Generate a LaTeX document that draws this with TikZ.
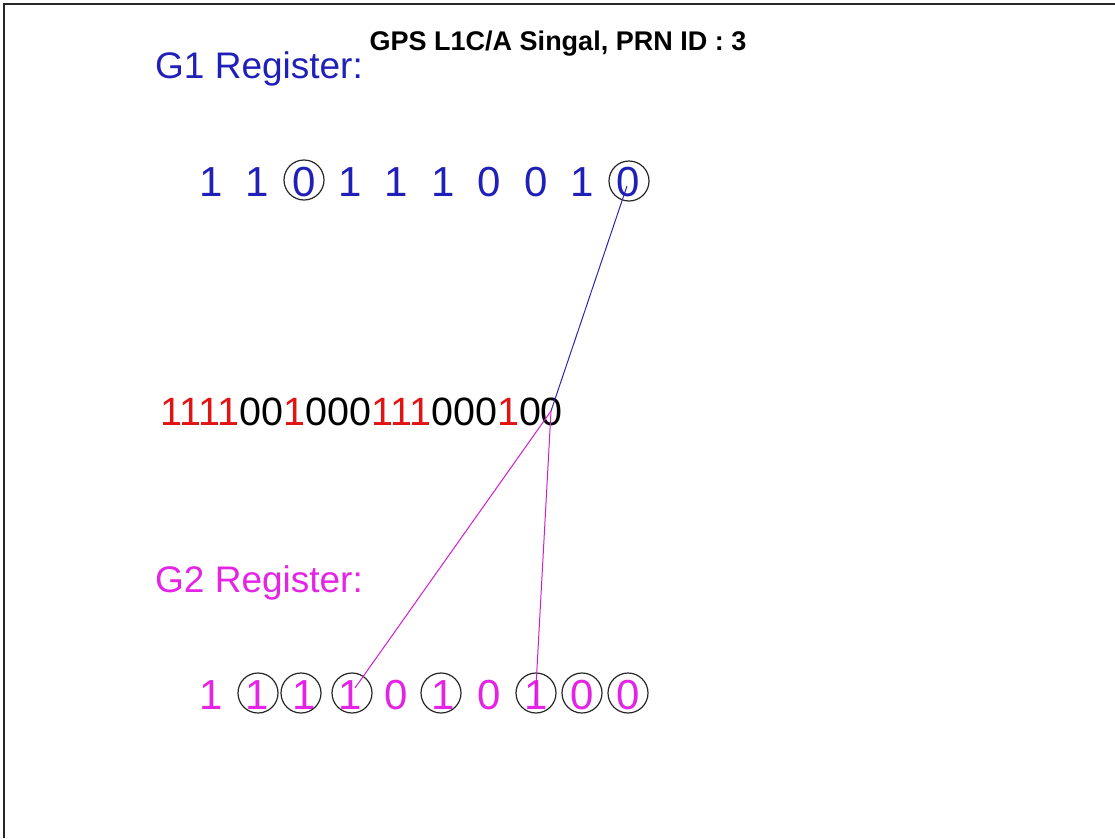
\documentclass[tikz,border=0pt]{standalone}
\usepackage{fontspec}
\setmainfont{Liberation Sans}
\definecolor{gone}{RGB}{32,32,185}
\definecolor{gtwo}{RGB}{228,36,228}
\definecolor{bitred}{RGB}{225,20,20}
\definecolor{gline}{RGB}{40,40,170}
\definecolor{mline}{RGB}{205,30,205}
\begin{document}
\begin{tikzpicture}[x=1pt,y=-1pt,
  lbl/.style={inner sep=0pt,anchor=base west,font=\fontsize{37}{42}\selectfont},
  bit/.style={inner sep=0pt,anchor=base,font=\fontsize{42}{46}\selectfont},
  ring/.style={circle,draw=black!85,line width=1.2pt,minimum size=40pt,inner sep=0pt},
  tapline/.style={line width=1pt}]
\useasboundingbox (0,0) rectangle (1115,838);
% frame edges
\draw[line width=2pt,black!85] (1115,4) -- (4,4) -- (4,838);

% title
\node[inner sep=0pt,anchor=base,font=\bfseries\fontsize{27}{30}\selectfont] (title) at (558,50) {GPS L1C/A Singal, PRN ID : 3};

% register captions
\node[lbl,text=gone] (g1lbl) at (155,78) {G1 Register:};
\node[lbl,text=gtwo] (g2lbl) at (155,592) {G2 Register:};

% G1 register bits
\foreach \b [count=\i] in {1,1,0,1,1,1,0,0,1,0}
  \node[bit,text=gone] (g1-\i) at ({211+46.4*(\i-1)},196) {\b};
% G2 register bits
\foreach \b [count=\i] in {1,1,1,1,0,1,0,1,0,0}
  \node[bit,text=gtwo] (g2-\i) at ({211+46.4*(\i-1)},709) {\b};

% generated code sequence
\node[inner sep=0pt,anchor=base west,font=\fontsize{39.5}{44}\selectfont] (seq) at (160,425)
  {\textcolor{bitred}{1111}00\textcolor{bitred}{1}000\textcolor{bitred}{111}000\textcolor{bitred}{1}00};
\coordinate (tap) at (551,411);

% tap rings on G1
\node[ring] (r1-3) at (304,180) {};
\node[ring] (r1-10) at (629,181) {};
% tap rings on G2
\node[ring] (r2-2) at (258,693) {};
\node[ring] (r2-3) at (301,693) {};
\node[ring] (r2-4) at (352,693) {};
\node[ring] (r2-6) at (441,693) {};
\node[ring] (r2-8) at (536,693) {};
\node[ring] (r2-9) at (582,693) {};
\node[ring] (r2-10) at (628,693) {};

% connections to the output bit
\coordinate (g1end) at (627,186);
\coordinate (g2endA) at (355,688);
\coordinate (g2endB) at (535,705);
\draw[tapline,gline] (g1end) -- (tap);
\draw[tapline,mline] (tap) -- (g2endA);
\draw[tapline,mline] (tap) -- (g2endB);
\end{tikzpicture}
\end{document}
